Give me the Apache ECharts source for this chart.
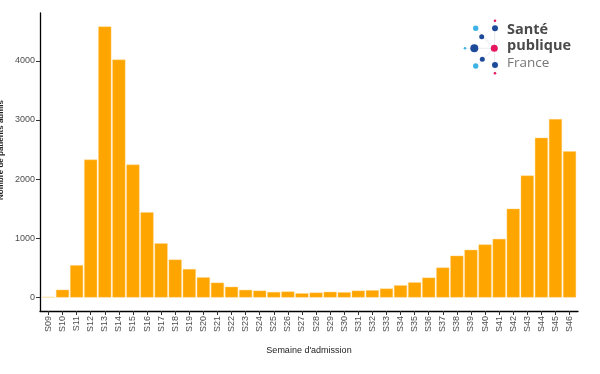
<!DOCTYPE html>
<html>
<head>
<meta charset="utf-8">
<script src="https://cdn.jsdelivr.net/npm/echarts@6/dist/echarts.min.js"></script>
<style>
html,body{margin:0;padding:0;background:#fff;}
#c{width:600px;height:374px;}
</style>
</head>
<body>
<div id="c"></div>
<script>
var categories = ['S09','S10','S11','S12','S13','S14','S15','S16','S17','S18','S19','S20','S21','S22','S23','S24','S25','S26','S27','S28','S29','S30','S31','S32','S33','S34','S35','S36','S37','S38','S39','S40','S41','S42','S43','S44','S45','S46'];
var admissions = [8,130,545,2330,4580,4020,2245,1440,915,640,480,340,250,180,128,115,92,100,70,82,95,88,115,122,150,205,255,335,505,705,805,895,990,1500,2060,2700,3015,2470];
var yTicks = [0,1000,2000,3000,4000];
var xTitle = "Semaine d'admission";
var yTitle = "Nombre de patients admis";

var idx = categories.map(function(_, i){ return i; });
var chart = echarts.init(document.getElementById('c'));
var font = 'Liberation Sans, Arial, sans-serif';

var logoDots = [
  [495,20.7,1.3,'#e6175c'],[495,28.3,3,'#1d4b9a'],[475.7,28.3,2.7,'#3db4e5'],
  [481.7,36.7,2.5,'#1d4b9a'],[465,48.3,1.3,'#3db4e5'],[474.3,48.3,4,'#1d4b9a'],
  [494.3,48.3,3.5,'#e6175c'],[482.3,59.3,2.5,'#1d4b9a'],[475.7,66,2.7,'#3db4e5'],
  [495,65,3,'#1d4b9a'],[495,73.3,1.3,'#e6175c']
];
var graphics = [];
logoDots.forEach(function(d){
  graphics.push({type:'line', shape:{x1:d[0],y1:d[1],x2:494.3,y2:48.3}, style:{stroke:'#e8e8ee',lineWidth:0.6}, z:1});
});
logoDots.forEach(function(d){
  graphics.push({type:'circle', shape:{cx:d[0],cy:d[1],r:d[2]}, style:{fill:d[3]}, z:2});
});
graphics.push({type:'text', left:507, top:22, style:{text:'Santé', fill:'#4a4a4a', font:'bold 14.5px "Open Sans", sans-serif'}, z:2});
graphics.push({type:'text', left:507, top:38, style:{text:'publique', fill:'#4a4a4a', font:'bold 14.5px "Open Sans", sans-serif'}, z:2});
graphics.push({type:'text', left:507, top:56, style:{text:'France', fill:'#777', font:'13.5px "Open Sans", sans-serif'}, z:2});

chart.setOption({
  animation:false,
  grid:{left:40, right:22, top:13, bottom:63},
  xAxis:{
    type:'value', min:-0.6, max:37.6,
    name:xTitle, nameLocation:'middle', nameGap:35,
    nameTextStyle:{color:'#222', fontSize:9, fontFamily:font},
    axisLine:{show:true, onZero:false, lineStyle:{color:'#000', width:1.3}},
    axisTick:{show:true, customValues:idx, length:4, lineStyle:{color:'#333'}},
    axisLabel:{customValues:idx, rotate:90, fontSize:9, color:'#4d4d4d', fontFamily:font, margin:5,
      formatter:function(v){ return categories[Math.round(v)]; }},
    splitLine:{show:false}
  },
  yAxis:{
    type:'value', min:-229, max:4809,
    axisLine:{show:true, onZero:false, lineStyle:{color:'#000', width:1.3}},
    axisTick:{show:true, customValues:yTicks, length:4, lineStyle:{color:'#333'}},
    axisLabel:{customValues:yTicks, fontSize:9, color:'#4d4d4d', fontFamily:font, margin:5,
      formatter:function(v){ return String(v); }},
    splitLine:{show:false}
  },
  graphic:graphics.concat([
    {type:'text', x:1, y:150, rotation:Math.PI/2, style:{text:yTitle, fill:'#222', font:'bold 8px '+font, align:'center', verticalAlign:'middle'}}
  ]),
  series:[{
    type:'bar', barWidth:13,
    data:admissions.map(function(v,i){ return [i, v]; }),
    itemStyle:{color:'#ffa500', borderColor:'#ffd27a', borderWidth:0.4}
  }]
});
</script>
</body>
</html>
